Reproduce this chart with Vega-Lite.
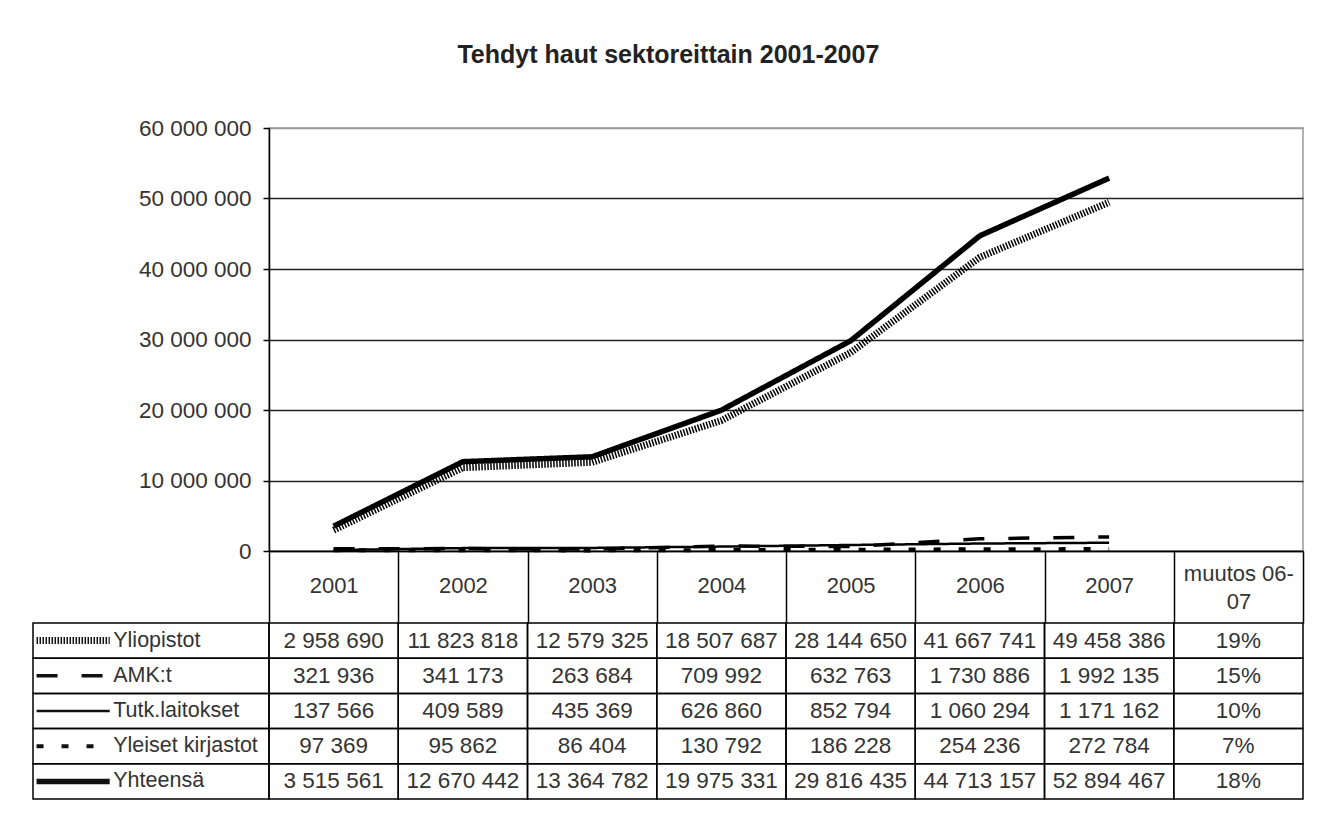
{
  "$schema": "https://vega.github.io/schema/vega-lite/v6.json",
  "padding": {"left": 32, "top": 43, "right": 10, "bottom": 10},
  "background": "white",
  "title": {"text": "Tehdyt haut sektoreittain 2001-2007", "fontSize": 25, "fontWeight": "bold", "color": "#222", "anchor": "middle", "offset": 48},
  "config": {
    "font": "Liberation Sans",
    "locale": {"number": {"decimal": ",", "thousands": " ", "grouping": [3], "currency": ["", " €"]}},
    "view": {"stroke": null}
  },
  "datasets": {
    "hakuja": [
      {"sektori": "Yliopistot", "vuosi": "2001", "hakuja": 2958690},
      {"sektori": "Yliopistot", "vuosi": "2002", "hakuja": 11823818},
      {"sektori": "Yliopistot", "vuosi": "2003", "hakuja": 12579325},
      {"sektori": "Yliopistot", "vuosi": "2004", "hakuja": 18507687},
      {"sektori": "Yliopistot", "vuosi": "2005", "hakuja": 28144650},
      {"sektori": "Yliopistot", "vuosi": "2006", "hakuja": 41667741},
      {"sektori": "Yliopistot", "vuosi": "2007", "hakuja": 49458386},
      {"sektori": "AMK:t", "vuosi": "2001", "hakuja": 321936},
      {"sektori": "AMK:t", "vuosi": "2002", "hakuja": 341173},
      {"sektori": "AMK:t", "vuosi": "2003", "hakuja": 263684},
      {"sektori": "AMK:t", "vuosi": "2004", "hakuja": 709992},
      {"sektori": "AMK:t", "vuosi": "2005", "hakuja": 632763},
      {"sektori": "AMK:t", "vuosi": "2006", "hakuja": 1730886},
      {"sektori": "AMK:t", "vuosi": "2007", "hakuja": 1992135},
      {"sektori": "Tutk.laitokset", "vuosi": "2001", "hakuja": 137566},
      {"sektori": "Tutk.laitokset", "vuosi": "2002", "hakuja": 409589},
      {"sektori": "Tutk.laitokset", "vuosi": "2003", "hakuja": 435369},
      {"sektori": "Tutk.laitokset", "vuosi": "2004", "hakuja": 626860},
      {"sektori": "Tutk.laitokset", "vuosi": "2005", "hakuja": 852794},
      {"sektori": "Tutk.laitokset", "vuosi": "2006", "hakuja": 1060294},
      {"sektori": "Tutk.laitokset", "vuosi": "2007", "hakuja": 1171162},
      {"sektori": "Yleiset kirjastot", "vuosi": "2001", "hakuja": 97369},
      {"sektori": "Yleiset kirjastot", "vuosi": "2002", "hakuja": 95862},
      {"sektori": "Yleiset kirjastot", "vuosi": "2003", "hakuja": 86404},
      {"sektori": "Yleiset kirjastot", "vuosi": "2004", "hakuja": 130792},
      {"sektori": "Yleiset kirjastot", "vuosi": "2005", "hakuja": 186228},
      {"sektori": "Yleiset kirjastot", "vuosi": "2006", "hakuja": 254236},
      {"sektori": "Yleiset kirjastot", "vuosi": "2007", "hakuja": 272784},
      {"sektori": "Yhteensä", "vuosi": "2001", "hakuja": 3515561},
      {"sektori": "Yhteensä", "vuosi": "2002", "hakuja": 12670442},
      {"sektori": "Yhteensä", "vuosi": "2003", "hakuja": 13364782},
      {"sektori": "Yhteensä", "vuosi": "2004", "hakuja": 19975331},
      {"sektori": "Yhteensä", "vuosi": "2005", "hakuja": 29816435},
      {"sektori": "Yhteensä", "vuosi": "2006", "hakuja": 44713157},
      {"sektori": "Yhteensä", "vuosi": "2007", "hakuja": 52894467}
    ],
    "muutos": [
      {"sektori": "Yliopistot", "muutos": 0.19},
      {"sektori": "AMK:t", "muutos": 0.15},
      {"sektori": "Tutk.laitokset", "muutos": 0.10},
      {"sektori": "Yleiset kirjastot", "muutos": 0.07},
      {"sektori": "Yhteensä", "muutos": 0.18}
    ]
  },
  "bounds": "flush",
  "columns": 2,
  "spacing": {"row": 72, "column": 0},
  "concat": [
    {
      "width": 236, "height": 423,
      "data": {"values": [{"t": ""}]},
      "mark": {"type": "text"},
      "encoding": {"text": {"field": "t"}}
    },
    {
      "width": 1034, "height": 423,
      "data": {"name": "hakuja"},
      "view": {"stroke": "#999", "strokeWidth": 1.5},
      "mark": {"type": "line", "color": "black", "strokeCap": "butt", "strokeJoin": "round"},
      "encoding": {
        "x": {
          "field": "vuosi", "type": "nominal", "bandPosition": 0.5,
          "scale": {"type": "band", "domain": ["2001", "2002", "2003", "2004", "2005", "2006", "2007", "muutos 06-07"], "paddingInner": 0, "paddingOuter": 0},
          "axis": {
            "title": null, "orient": "bottom", "grid": false,
            "domainColor": "black", "domainWidth": 1.5,
            "tickBand": "extent", "tickSize": 72, "tickColor": "black", "tickWidth": 1.5,
            "labelAngle": 0, "labelPadding": -38,
            "labelBaseline": {"condition": {"test": "datum.value == 'muutos 06-07'", "value": "bottom"}, "value": "middle"},
            "labelFontSize": 22, "labelColor": "#333", "labelLineHeight": 28,
            "labelExpr": "datum.value == 'muutos 06-07' ? ['muutos 06-', '07'] : datum.label"
          }
        },
        "y": {
          "field": "hakuja", "type": "quantitative",
          "scale": {"domain": [0, 60000000], "nice": false},
          "axis": {
            "title": null,
            "values": [0, 10000000, 20000000, 30000000, 40000000, 50000000, 60000000],
            "format": ",d",
            "domainColor": "black", "domainWidth": 1.5,
            "tickColor": "black", "tickSize": 6, "tickWidth": 1.5,
            "labelPadding": 12, "labelFontSize": 22.5, "labelColor": "#333",
            "grid": true, "gridWidth": 1.3,
            "gridColor": {"condition": {"test": "datum.value == 60000000", "value": "#999"}, "value": "#222"}
          }
        },
        "detail": {"field": "sektori", "type": "nominal"},
        "strokeDash": {
          "field": "sektori", "type": "nominal", "legend": null,
          "scale": {"type": "ordinal", "domain": ["Yliopistot", "AMK:t", "Tutk.laitokset", "Yleiset kirjastot", "Yhteensä"], "range": [[1.5, 1.5], [21, 24], [1, 0], [7, 18], [1, 0]]}
        },
        "strokeWidth": {
          "field": "sektori", "type": "ordinal", "legend": null,
          "scale": {"type": "ordinal", "domain": ["Yliopistot", "AMK:t", "Tutk.laitokset", "Yleiset kirjastot", "Yhteensä"], "range": [7, 3.5, 2.5, 4, 5.5]}
        }
      }
    },
    {
      "width": 236, "height": 176,
      "data": {"name": "muutos"},
      "layer": [
        {
          "mark": {"type": "rect", "filled": false, "color": "black", "strokeWidth": 1.5},
          "encoding": {
            "y": {"field": "sektori", "type": "nominal", "scale": {"type": "band", "domain": ["Yliopistot", "AMK:t", "Tutk.laitokset", "Yleiset kirjastot", "Yhteensä"], "paddingInner": 0, "paddingOuter": 0}, "axis": null},
            "x": {"datum": 0, "type": "quantitative", "scale": {"domain": [0, 1], "nice": false}, "axis": null},
            "x2": {"datum": 1}
          }
        },
        {
          "mark": {"type": "rule", "color": "#111", "strokeCap": "butt"},
          "encoding": {
            "y": {"field": "sektori", "type": "nominal", "bandPosition": 0.5},
            "x": {"datum": 0.015, "type": "quantitative"},
            "x2": {"datum": 0.325},
            "strokeDash": {
              "field": "sektori", "type": "nominal", "legend": null,
              "scale": {"type": "ordinal", "domain": ["Yliopistot", "AMK:t", "Tutk.laitokset", "Yleiset kirjastot", "Yhteensä"], "range": [[1.5, 1.5], [21, 24], [1, 0], [7, 18], [1, 0]]}
            },
            "strokeWidth": {
              "field": "sektori", "type": "ordinal", "legend": null,
              "scale": {"type": "ordinal", "domain": ["Yliopistot", "AMK:t", "Tutk.laitokset", "Yleiset kirjastot", "Yhteensä"], "range": [7, 3.5, 2.5, 4, 5.5]}
            }
          }
        },
        {
          "mark": {"type": "text", "align": "left", "baseline": "middle", "fontSize": 21.5, "color": "#333"},
          "encoding": {
            "y": {"field": "sektori", "type": "nominal", "bandPosition": 0.5},
            "x": {"datum": 0.34, "type": "quantitative"},
            "text": {"field": "sektori", "type": "nominal"}
          }
        }
      ]
    },
    {
      "width": 1034, "height": 176,
      "layer": [
        {
          "data": {"name": "hakuja"},
          "mark": {"type": "rect", "filled": false, "color": "black", "strokeWidth": 1.5},
          "encoding": {
            "x": {"field": "vuosi", "type": "nominal", "scale": {"type": "band", "domain": ["2001", "2002", "2003", "2004", "2005", "2006", "2007", "muutos 06-07"], "paddingInner": 0, "paddingOuter": 0}, "axis": null},
            "y": {"field": "sektori", "type": "nominal", "scale": {"type": "band", "domain": ["Yliopistot", "AMK:t", "Tutk.laitokset", "Yleiset kirjastot", "Yhteensä"], "paddingInner": 0, "paddingOuter": 0}, "axis": null}
          }
        },
        {
          "data": {"name": "hakuja"},
          "mark": {"type": "text", "align": "center", "baseline": "middle", "fontSize": 22.5, "color": "#333"},
          "encoding": {
            "x": {"field": "vuosi", "type": "nominal", "bandPosition": 0.5},
            "y": {"field": "sektori", "type": "nominal", "bandPosition": 0.5},
            "text": {"field": "hakuja", "type": "quantitative", "format": ",d"}
          }
        },
        {
          "data": {"name": "muutos"},
          "mark": {"type": "rect", "filled": false, "color": "black", "strokeWidth": 1.5},
          "encoding": {
            "x": {"datum": "muutos 06-07", "type": "nominal"},
            "y": {"field": "sektori", "type": "nominal"}
          }
        },
        {
          "data": {"name": "muutos"},
          "mark": {"type": "text", "align": "center", "baseline": "middle", "fontSize": 22.5, "color": "#333"},
          "encoding": {
            "x": {"datum": "muutos 06-07", "type": "nominal", "bandPosition": 0.5},
            "y": {"field": "sektori", "type": "nominal", "bandPosition": 0.5},
            "text": {"field": "muutos", "type": "quantitative", "format": ".0%"}
          }
        }
      ]
    }
  ]
}
